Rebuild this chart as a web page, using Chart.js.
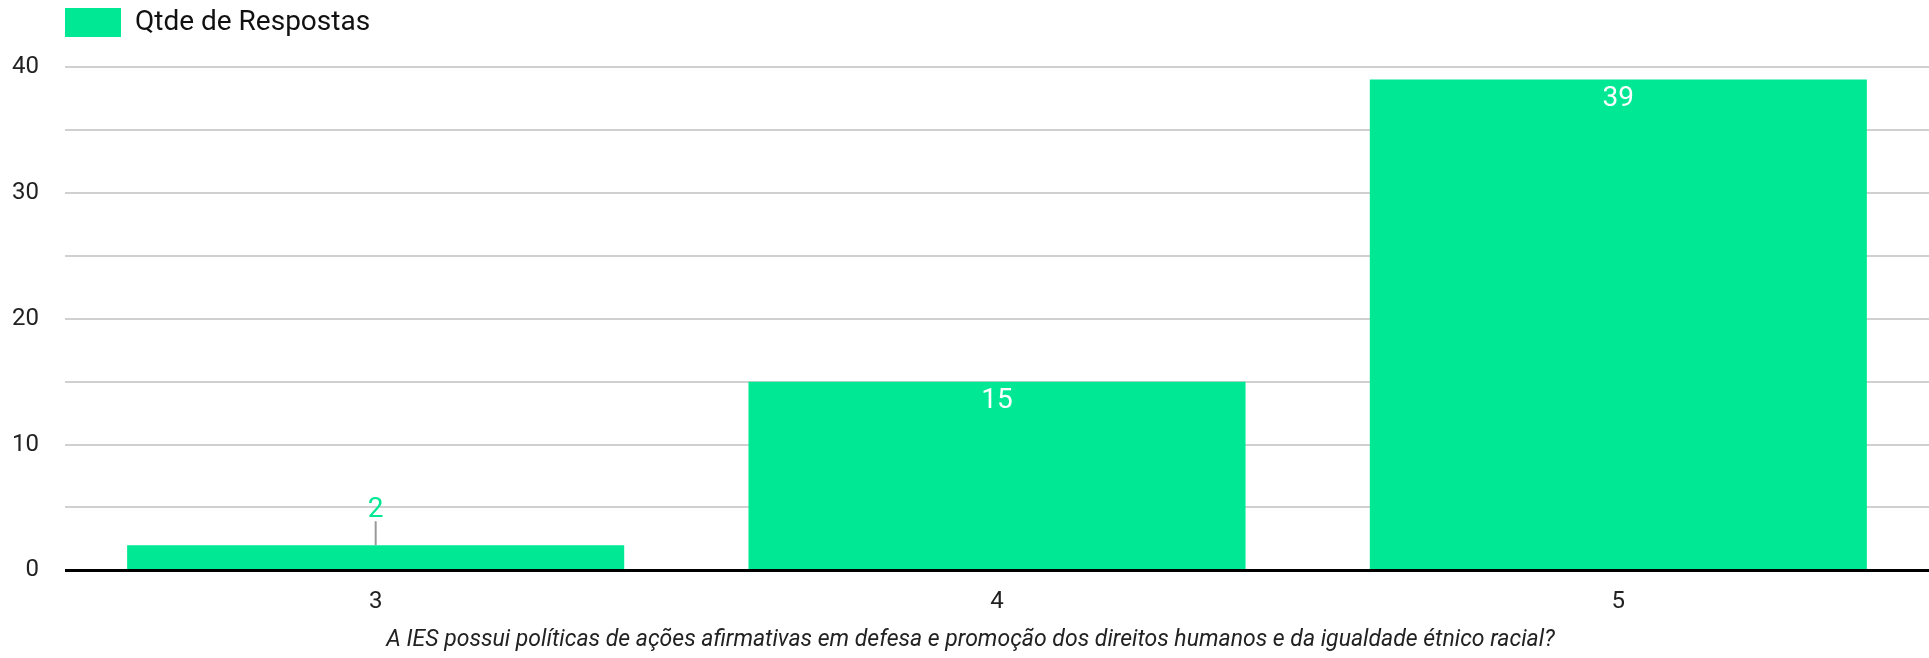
<!DOCTYPE html>
<html lang="pt">
<head>
  <meta charset="UTF-8">
  <title>Qtde de Respostas</title>
  <script src="https://cdn.jsdelivr.net/npm/chart.js"></script>
  <style>
    body {
      margin: 0;
      background: #fff;
    }
    #chart-container {
      width: 1929px;
      height: 658px;
    }
  </style>
</head>
<body>
  <div id="chart-container">
    <canvas id="respChart" width="1929" height="658"></canvas>
  </div>

  <script>
    const categories = ['3', '4', '5'];
    const respostas = [2, 15, 39];
    const seriesLabel = 'Qtde de Respostas';
    const axisTitle = 'A IES possui políticas de ações afirmativas em defesa e promoção dos direitos humanos e da igualdade étnico racial?';
    const yTickLabels = [0, 10, 20, 30, 40];

    const green = '#00e893';

    Chart.defaults.font.family = 'Roboto';
    Chart.defaults.color = '#222';

    // value labels: white inside the bar, or green above with a small leader line
    const valueLabels = {
      id: 'valueLabels',
      afterDatasetsDraw(chart) {
        const ctx = chart.ctx;
        const meta = chart.getDatasetMeta(0);
        ctx.save();
        ctx.font = '28px Roboto';
        ctx.textAlign = 'center';
        ctx.textBaseline = 'middle';
        meta.data.forEach((bar, i) => {
          const v = respostas[i];
          const h = bar.base - bar.y;
          if (h > 40) {
            ctx.fillStyle = '#fff';
            ctx.fillText(String(v), bar.x, bar.y + 19);
          } else {
            ctx.strokeStyle = '#999';
            ctx.lineWidth = 2;
            ctx.beginPath();
            ctx.moveTo(bar.x, bar.y);
            ctx.lineTo(bar.x, bar.y - 24);
            ctx.stroke();
            ctx.fillStyle = green;
            ctx.fillText(String(v), bar.x, bar.y - 35);
          }
        });
        ctx.restore();
      }
    };

    // legend: a bit more room below it, box lined up with the plot's left edge
    const legendTweak = {
      id: 'legendTweak',
      afterInit(chart) {
        const lg = chart.legend;
        const fit = lg.fit;
        lg.fit = function() {
          fit.call(this);
          this.height += 20;
        };
      },
      afterLayout(chart) {
        chart.legend.left = chart.chartArea.left - 8;
      }
    };

    const ctx = document.getElementById('respChart').getContext('2d');
    new Chart(ctx, {
      type: 'bar',
      data: {
        labels: categories,
        datasets: [
          {
            label: seriesLabel,
            data: respostas,
            backgroundColor: green,
            borderWidth: 0,
            barPercentage: 0.8,
            categoryPercentage: 1
          }
        ]
      },
      options: {
        responsive: false,
        animation: false,
        layout: {
          padding: { left: 12, right: 0, top: 0, bottom: 0 }
        },
        plugins: {
          legend: {
            position: 'top',
            align: 'start',
            labels: {
              boxWidth: 56,
              boxHeight: 29,
              padding: 8,
              font: { size: 28 },
              color: '#111'
            }
          },
          title: {
            display: true,
            position: 'bottom',
            text: axisTitle,
            font: { size: 23, style: 'italic', weight: 'normal' },
            color: '#222',
            padding: { top: 12, bottom: 4 }
          },
          tooltip: { enabled: false }
        },
        scales: {
          x: {
            grid: { display: false, drawTicks: false },
            border: { display: false },
            ticks: {
              padding: 17,
              font: { size: 24 },
              color: '#222'
            },
            afterFit: s => { s.height = 44; }
          },
          y: {
            min: 0,
            max: 40,
            border: { display: false },
            grid: {
              drawTicks: false,
              color: c => c.tick && c.tick.value === 0 ? '#000' : '#d0d0d0',
              lineWidth: c => c.tick && c.tick.value === 0 ? 3 : 2
            },
            ticks: {
              stepSize: 5,
              padding: 26,
              font: { size: 24 },
              color: '#222',
              callback: v => yTickLabels.includes(v) ? String(v) : ''
            },
            afterFit: s => { s.width = 53; }
          }
        }
      },
      plugins: [valueLabels, legendTweak]
    });
  </script>
</body>
</html>
